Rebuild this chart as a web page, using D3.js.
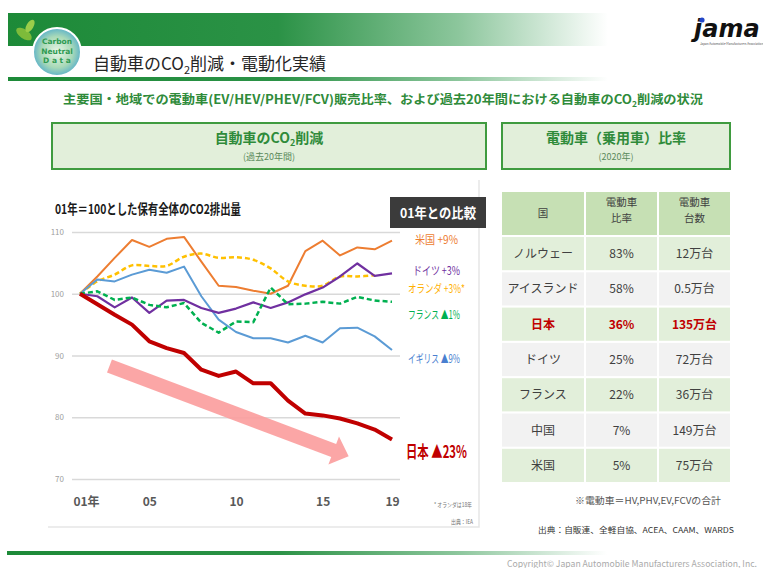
<!DOCTYPE html>
<head>
  <meta charset="utf-8">
  <script src="https://d3js.org/d3.v7.min.js"></script>
  <style>
    body {
      margin: 0;
      background: #fff;
    }
    svg text {
      font-family: "Noto Sans CJK JP", "Noto Sans", sans-serif;
    }
  </style>
</head>

<body>
  <div id="chart"></div>

  <script>
    // CO2 index (2001 = 100)
    var years = [2001, 2002, 2003, 2004, 2005, 2006, 2007, 2008, 2009, 2010,
                 2011, 2012, 2013, 2014, 2015, 2016, 2017, 2018, 2019];
    var japan = [100, 98.3, 96.6, 95.0, 92.3, 91.2, 90.4, 87.7, 86.7, 87.4,
                 85.5, 85.5, 82.7, 80.6, 80.3, 79.8, 79.0, 78.0, 76.4];
    var usa = [100, 102.8, 105.8, 108.7, 107.6, 108.9, 109.2, 105.2, 101.3, 101.1,
               100.5, 100.0, 101.3, 106.9, 108.6, 106.2, 107.5, 107.2, 108.6];
    var germany = [100, 99.6, 97.8, 99.4, 96.9, 98.9, 99.0, 97.7, 96.9, 97.6,
                   98.6, 97.7, 98.6, 99.9, 101.0, 102.8, 104.9, 102.9, 103.3];
    var netherlands = [100, 102.0, 103.1, 104.6, 104.5, 104.5, 106.0, 106.5, 105.8, 105.9,
                       105.5, 104.1, 102.0, 101.3, 101.3, 102.8, 102.8, 103.0];
    var france = [100, 100.4, 99.0, 99.4, 98.2, 97.8, 98.5, 95.3, 93.7, 95.5,
                  95.4, 101.0, 98.3, 98.4, 98.7, 98.4, 99.5, 98.9, 98.7];
    var uk = [100, 102.3, 102.0, 103.1, 103.9, 103.4, 104.4, 99.6, 95.8, 93.8,
              92.8, 92.8, 92.1, 93.2, 92.1, 94.4, 94.5, 93.1, 90.9];
    var yTicks = [70, 80, 90, 100, 110];
    var xTicks = [2001, 2005, 2010, 2015, 2019];

    // EV share table (2020)
    var countries = ["ノルウェー", "アイスランド", "日本", "ドイツ", "フランス", "中国", "米国"];
    var evShare = [83, 58, 36, 25, 22, 7, 5];
    var evUnits = [12, 0.5, 135, 72, 36, 149, 75];

    var W = 763, H = 568;
    var svg = d3.select("#chart").append("svg")
      .attr("width", W)
      .attr("height", H);
    var defs = svg.append("defs");

    function fadeGrad(id) {
      var g = defs.append("linearGradient").attr("id", id)
        .attr("x1", "0%").attr("x2", "100%").attr("y1", "0%").attr("y2", "0%");
      g.append("stop").attr("offset", "0%").attr("stop-color", "#1d8a38");
      g.append("stop").attr("offset", "45%").attr("stop-color", "#2b9246");
      g.append("stop").attr("offset", "75%").attr("stop-color", "#8cc69c");
      g.append("stop").attr("offset", "100%").attr("stop-color", "#ffffff");
    }
    fadeGrad("bandGrad");
    var globe = defs.append("radialGradient").attr("id", "globeGrad");
    globe.append("stop").attr("offset", "0%").attr("stop-color", "#e9f6e6");
    globe.append("stop").attr("offset", "65%").attr("stop-color", "#a8d9b8");
    globe.append("stop").attr("offset", "100%").attr("stop-color", "#5fb3c8");

    // ---- header ----
    svg.append("rect").attr("x", 8).attr("y", 13).attr("width", 600).attr("height", 33)
      .attr("fill", "url(#bandGrad)");
    svg.append("rect").attr("x", 8).attr("y", 77).attr("width", 600).attr("height", 4)
      .attr("fill", "url(#bandGrad)");

    // carbon neutral logo
    svg.append("ellipse").attr("cx", 24).attr("cy", 34).attr("rx", 9).attr("ry", 4.5)
      .attr("transform", "rotate(35 24 34)").attr("fill", "#7dbb3a");
    svg.append("ellipse").attr("cx", 30).attr("cy", 26).attr("rx", 7).attr("ry", 3.5)
      .attr("transform", "rotate(-60 30 26)").attr("fill", "#9acd4a");
    svg.append("circle").attr("cx", 57).attr("cy", 52).attr("r", 24)
      .attr("fill", "url(#globeGrad)").attr("stroke", "#ffffff").attr("stroke-width", 2);
    [["Carbon", 44], ["Neutral", 53.5], ["D a t a", 63]].forEach(function(t) {
      svg.append("text").attr("x", 57).attr("y", t[1]).attr("text-anchor", "middle")
        .attr("font-size", 7.5).attr("font-weight", "bold").attr("fill", "#2f9a52")
        .style("font-family", "'DejaVu Sans', sans-serif")
        .text(t[0]);
    });

    var title = svg.append("text").attr("x", 93).attr("y", 70)
      .attr("font-size", 17).attr("fill", "#262626");
    title.append("tspan").text("自動車のCO");
    title.append("tspan").attr("font-size", 11).attr("dy", 4).text("2");
    title.append("tspan").attr("dy", -4).text("削減・電動化実績");

    // jama logo
    svg.append("text").attr("x", 694).attr("y", 37)
      .attr("font-size", 24).attr("font-weight", "bold").attr("font-style", "italic")
      .attr("fill", "#111")
      .style("font-family", "'DejaVu Sans', sans-serif")
      .text("jama");
    svg.append("circle").attr("cx", 702).attr("cy", 20).attr("r", 2.6).attr("fill", "#2246c8");
    svg.append("text").attr("x", 700).attr("y", 45).attr("font-size", 3)
      .attr("fill", "#555").text("Japan Automobile Manufacturers Association");

    var sub = svg.append("text").attr("x", 63).attr("y", 104)
      .attr("font-size", 12.5).attr("font-weight", "bold").attr("fill", "#2f8b3a")
      .attr("textLength", 640).attr("lengthAdjust", "spacingAndGlyphs");
    sub.append("tspan").text("主要国・地域での電動車(EV/HEV/PHEV/FCV)販売比率、および過去20年間における自動車のCO");
    sub.append("tspan").attr("font-size", 8).attr("dy", 3).text("2");
    sub.append("tspan").attr("dy", -3).text("削減の状況");

    // section boxes
    function sectionBox(x, w, main, note, sub2) {
      svg.append("rect").attr("x", x).attr("y", 123).attr("width", w).attr("height", 46)
        .attr("fill", "#e2efda").attr("stroke", "#3f9b3f").attr("stroke-width", 2);
      var t = svg.append("text").attr("x", x + w / 2).attr("y", 143)
        .attr("text-anchor", "middle").attr("font-size", 14).attr("font-weight", "bold")
        .attr("fill", "#2f8b3a");
      t.append("tspan").text(main);
      if (sub2) {
        t.append("tspan").attr("font-size", 9).attr("dy", 3).text("2");
        t.append("tspan").attr("dy", -3).text(sub2);
      }
      svg.append("text").attr("x", x + w / 2).attr("y", 160)
        .attr("text-anchor", "middle").attr("font-size", 9).attr("fill", "#5a8a5a")
        .text(note);
    }
    sectionBox(52, 434, "自動車のCO", "(過去20年間)", "削減");
    sectionBox(502, 228, "電動車（乗用車）比率", "(2020年)");

    // ---- line chart ----
    svg.append("path").attr("d", "M48,527 H479 V180")
      .attr("fill", "none").attr("stroke", "#e6e6e6").attr("stroke-width", 1.5);

    svg.append("text").attr("x", 55).attr("y", 214)
      .attr("font-size", 13.5).attr("font-weight", "bold").attr("fill", "#1a1a1a")
      .attr("textLength", 186).attr("lengthAdjust", "spacingAndGlyphs")
      .text("01年＝100とした保有全体のCO2排出量");

    svg.append("rect").attr("x", 390).attr("y", 197).attr("width", 96).attr("height", 31)
      .attr("fill", "#3b3b3b");
    svg.append("text").attr("x", 438).attr("y", 218).attr("text-anchor", "middle")
      .attr("font-size", 13.5).attr("font-weight", "bold").attr("fill", "#fff")
      .attr("textLength", 76).attr("lengthAdjust", "spacingAndGlyphs")
      .text("01年との比較");

    var x = d3.scaleLinear().domain([2001, 2019]).range([80, 392]);
    var y = d3.scaleLinear().domain([70, 110]).range([479, 232]);

    var yAxis = svg.append("g").attr("transform", "translate(72,0)")
      .call(d3.axisLeft(y).tickValues(yTicks).tickSize(-328).tickPadding(8));
    yAxis.select(".domain").remove();
    yAxis.selectAll("line").attr("stroke", "#d9d9d9").attr("stroke-width", 1.5);
    yAxis.selectAll("text").attr("fill", "#a0a0a0").attr("font-size", 8);

    var xAxis = svg.append("g").attr("transform", "translate(0,494)")
      .call(d3.axisBottom(x).tickValues(xTicks).tickSize(0)
        .tickFormat(function(d) { return d === 2001 ? "01年" : String(d).slice(2); }));
    xAxis.select(".domain").remove();
    xAxis.selectAll("text").attr("fill", "#595959").attr("font-size", 12)
      .attr("font-weight", "bold").attr("dy", "0.75em")
      .attr("dx", function(d) { return d === 2001 ? 6 : 0; });

    // pink trend arrow, anchored in data units
    var a0 = [x(2002.7), y(88.3)], a1 = [x(2016.5), y(73.7)];
    var dx = a1[0] - a0[0], dy = a1[1] - a0[1], len = Math.sqrt(dx * dx + dy * dy);
    var ux = dx / len, uy = dy / len, px = -uy, py = ux;
    var hw = 7, hh = 15, hl = 16;
    function pt(t, s) { return [a0[0] + ux * t + px * s, a0[1] + uy * t + py * s]; }
    var arrowPts = [pt(0, -hw), pt(len - hl, -hw), pt(len - hl, -hh), pt(len, 0),
                    pt(len - hl, hh), pt(len - hl, hw), pt(0, hw)];
    svg.append("polygon").attr("points", arrowPts.map(function(p) { return p.join(","); }).join(" "))
      .attr("fill", "#fb9c9c").attr("opacity", 0.9);

    var series = [
      { values: usa, color: "#ed7d31", width: 2, dash: null },
      { values: netherlands, color: "#ffc000", width: 2.5, dash: "5,3", smooth: true },
      { values: uk, color: "#5b9bd5", width: 2, dash: null },
      { values: germany, color: "#7030a0", width: 2.2, dash: null },
      { values: france, color: "#00b050", width: 2.5, dash: "5,3" },
      { values: japan, color: "#c00000", width: 4, dash: null }
    ];

    series.forEach(function(s) {
      var line = d3.line()
        .x(function(d, i) { return x(years[i]); })
        .y(function(d) { return y(d); })
        .curve(s.smooth ? d3.curveCatmullRom : d3.curveLinear);
      svg.append("path")
        .datum(s.values)
        .attr("d", line)
        .attr("fill", "none")
        .attr("stroke", s.color)
        .attr("stroke-width", s.width)
        .attr("stroke-dasharray", s.dash)
        .attr("stroke-linejoin", "round");
    });

    var labels = [
      { text: "米国 +9%", x: 415, y: 244, color: "#ed7d31", w: 43 },
      { text: "ドイツ +3%", x: 413, y: 275, color: "#7030a0", w: 47 },
      { text: "オランダ +3%*", x: 408, y: 293, color: "#ffb000", w: 57 },
      { text: "フランス ▲1%", x: 408, y: 319, color: "#00b050", w: 52 },
      { text: "イギリス ▲9%", x: 408, y: 363, color: "#4a7fd0", w: 52 },
      { text: "日本 ▲23%", x: 406, y: 458, color: "#c00000", w: 61, big: true }
    ];
    labels.forEach(function(l) {
      svg.append("text").attr("x", l.x).attr("y", l.y)
        .attr("font-size", l.big ? 17 : 11.8)
        .attr("font-weight", l.big ? "bold" : "normal")
        .attr("fill", l.color)
        .attr("textLength", l.w).attr("lengthAdjust", "spacingAndGlyphs")
        .text(l.text);
    });

    svg.append("text").attr("x", 434).attr("y", 507).attr("font-size", 6).attr("fill", "#777")
      .attr("textLength", 38).attr("lengthAdjust", "spacingAndGlyphs")
      .text("* オランダは18年");
    svg.append("text").attr("x", 451).attr("y", 524).attr("font-size", 6).attr("fill", "#777")
      .attr("textLength", 22).attr("lengthAdjust", "spacingAndGlyphs")
      .text("出典：IEA");

    // ---- EV table ----
    var colX = [502, 586, 659], colW = [82, 71, 71];
    var rowY = d3.scaleBand().domain(countries).range([237, 482]).paddingInner(0.06);

    svg.append("g").selectAll("rect").data(colX).enter().append("rect")
      .attr("x", function(d) { return d; }).attr("y", 192)
      .attr("width", function(d, i) { return colW[i]; }).attr("height", 43)
      .attr("fill", "#c6e0b4");
    var hdr = [["国"], ["電動車", "比率"], ["電動車", "台数"]];
    hdr.forEach(function(lines, i) {
      lines.forEach(function(t, j) {
        svg.append("text").attr("x", colX[i] + colW[i] / 2)
          .attr("y", lines.length === 1 ? 217 : 206 + j * 16)
          .attr("text-anchor", "middle").attr("font-size", 10.5).attr("fill", "#404040")
          .text(t);
      });
    });

    countries.forEach(function(c, r) {
      var cells = [c, evShare[r] + "%", evUnits[r] + "万台"];
      var isJapan = c === "日本";
      cells.forEach(function(t, i) {
        svg.append("rect").attr("x", colX[i]).attr("y", rowY(c))
          .attr("width", colW[i]).attr("height", rowY.bandwidth())
          .attr("fill", r % 2 === 0 ? "#e2efda" : "#f2f2f2");
        svg.append("text").attr("x", colX[i] + colW[i] / 2)
          .attr("y", rowY(c) + rowY.bandwidth() / 2 + 4.5)
          .attr("text-anchor", "middle").attr("font-size", 12)
          .attr("font-weight", isJapan ? "bold" : "normal")
          .attr("fill", isJapan ? "#c00000" : "#404040")
          .text(t);
      });
    });

    svg.append("text").attr("x", 575).attr("y", 504).attr("font-size", 9.5).attr("fill", "#555")
      .attr("textLength", 146).attr("lengthAdjust", "spacingAndGlyphs")
      .text("※電動車＝HV,PHV,EV,FCVの合計");
    svg.append("text").attr("x", 538).attr("y", 533).attr("font-size", 8).attr("fill", "#333")
      .attr("textLength", 196).attr("lengthAdjust", "spacingAndGlyphs")
      .text("出典：自販連、全軽自協、ACEA、CAAM、WARDS");

    // ---- footer ----
    svg.append("rect").attr("x", 7).attr("y", 551).attr("width", 600).attr("height", 4)
      .attr("fill", "url(#bandGrad)");
    svg.append("text").attr("x", 507).attr("y", 567).attr("font-size", 8.5).attr("fill", "#aaa")
      .attr("textLength", 250).attr("lengthAdjust", "spacingAndGlyphs")
      .text("Copyright© Japan Automobile Manufacturers Association, Inc.");
  </script>
</body>
